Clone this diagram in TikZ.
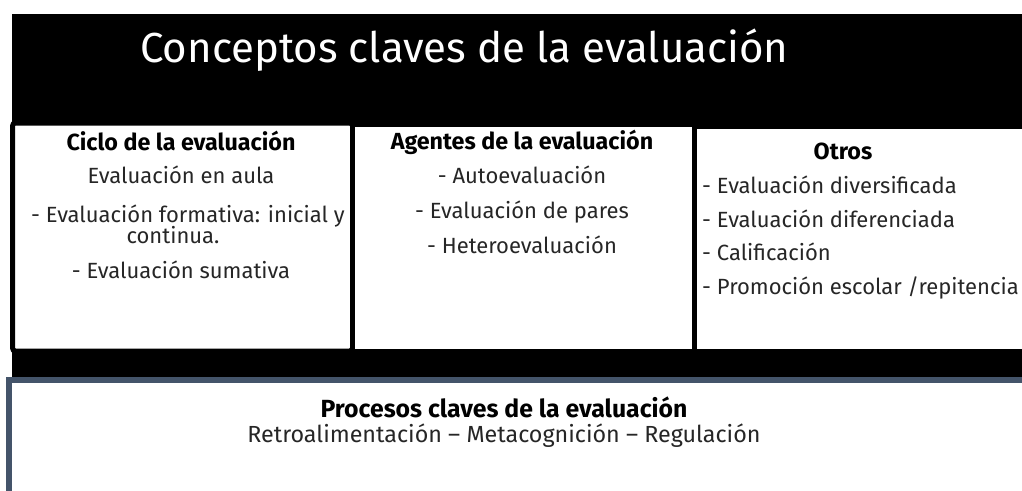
\documentclass[tikz,border=0pt]{standalone}
\usepackage{fontspec}
\setmainfont{Fira Sans}
\definecolor{frameblue}{HTML}{44546A}
\definecolor{bodytext}{HTML}{262626}
\begin{document}
\begin{tikzpicture}[x=1pt,y=-1pt,
  body/.style={inner sep=0pt,anchor=base,font=\fontsize{22}{26}\selectfont,text=bodytext},
  bodyleft/.style={body,anchor=base west},
  head/.style={inner sep=0pt,anchor=base,font=\fontsize{23.3}{26}\selectfont\bfseries,text=black},
  panel/.style={fill=white,draw=black,line width=5pt},
]
\useasboundingbox (0,0) rectangle (1022,490);
\clip (0,0) rectangle (1022,490);
% black background band
\fill[black] (12,14) rectangle (1030,377);
% title
\node[inner sep=0pt,anchor=base west,text=white,font=\fontsize{42}{48}\selectfont] (title) at (140,62) {Conceptos claves de la evaluación};
% panels
\path[panel,rounded corners=3pt] (12.5,123) rectangle (352.5,351);
\path[panel] (352.5,124) rectangle (694.5,351);
\path[panel] (694.5,126) rectangle (1040,351);
% bottom frame
\path[fill=white,draw=frameblue,line width=6pt] (9,380) rectangle (1040,500);
% panel 1
\node[head] (h1) at (181,150) {Ciclo de la evaluación};
\node[body] (a1) at (181,183) {Evaluación en aula};
\node[body] (a2) at (188,222) {- Evaluación formativa: inicial y};
\node[body] (a3) at (173,243) {continua.};
\node[body] (a4) at (181,278) {- Evaluación sumativa};
% panel 2
\node[head] (h2) at (522,149) {Agentes de la evaluación};
\node[body] (b1) at (522,183) {- Autoevaluación};
\node[body] (b2) at (522,218) {- Evaluación de pares};
\node[body] (b3) at (522,253) {- Heteroevaluación};
% panel 3
\node[head] (h3) at (843,159) {Otros};
\node[bodyleft] (c1) at (702,193) {- Evaluación diversificada};
\node[bodyleft] (c2) at (702,227) {- Evaluación diferenciada};
\node[bodyleft] (c3) at (702,260) {- Calificación};
\node[bodyleft] (c4) at (702,294) {- Promoción escolar /repitencia};
% bottom
\node[head,font=\fontsize{24.8}{28}\selectfont\bfseries] (h4) at (504,417) {Procesos claves de la evaluación};
\node[body,font=\fontsize{23.3}{28}\selectfont] (d1) at (504,442) {Retroalimentación – Metacognición – Regulación};
\end{tikzpicture}
\end{document}
